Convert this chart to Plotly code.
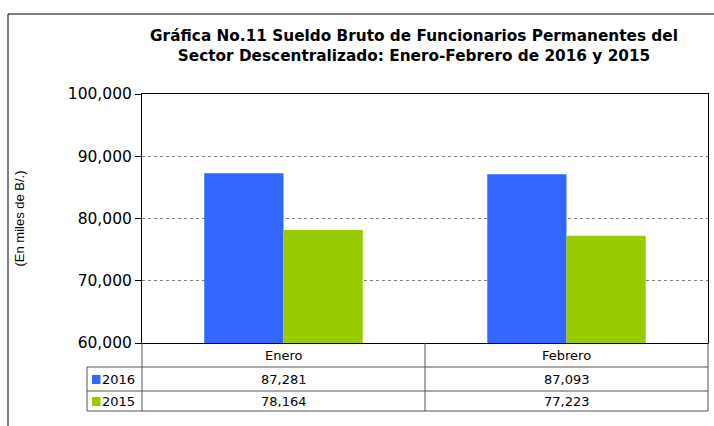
import plotly.graph_objects as go

# datos
meses = ["Enero", "Febrero"]
anios = ["2016", "2015"]
sueldo_2016 = [87281, 87093]
sueldo_2015 = [78164, 77223]
colores = ["#3366FF", "#99CC00"]
y_ticks = [60000, 70000, 80000, 90000, 100000]

titulo = ("Gráfica No.11 Sueldo Bruto de Funcionarios Permanentes del<br>"
          "Sector Descentralizado: Enero-Febrero de 2016 y 2015")

W, H = 714, 426
L, R, T, B = 142, 708, 94, 343   # plot area in pixels


def fx(p):
    return (p - L) / (R - L)


def fy(p):
    return (B - p) / (B - T)


FONT = "DejaVu Sans"

fig = go.Figure()
for nombre, vals, c in zip(anios, [sueldo_2016, sueldo_2015], colores):
    fig.add_trace(go.Bar(x=meses, y=vals, name=nombre, marker_color=c,
                         marker_line_width=0))

# tabla de datos debajo del grafico
line = dict(color="#555555", width=1)
shapes = [
    # marco exterior
    dict(type="rect", xref="paper", yref="paper", x0=fx(8), x1=fx(730),
         y0=fy(14), y1=fy(450), line=dict(color="black", width=1)),
]
for yy in [367, 391, 411]:
    shapes.append(dict(type="line", xref="paper", yref="paper",
                       x0=fx(87), x1=fx(R), y0=fy(yy), y1=fy(yy), line=line))
shapes.append(dict(type="line", xref="paper", yref="paper",
                   x0=fx(87), x1=fx(87), y0=fy(367), y1=fy(411), line=line))
for xx in [L, (L + R) / 2, R]:
    shapes.append(dict(type="line", xref="paper", yref="paper",
                       x0=fx(xx), x1=fx(xx), y0=fy(B), y1=fy(411), line=line))

annotations = []
for m in meses:
    annotations.append(dict(x=m, xref="x", y=fy(355), yref="paper", text=m,
                            showarrow=False, yanchor="middle",
                            font=dict(size=13, family=FONT)))

filas = [(379, anios[0], sueldo_2016, colores[0]),
         (401, anios[1], sueldo_2015, colores[1])]
for yy, nombre, vals, c in filas:
    shapes.append(dict(type="rect", xref="paper", yref="paper",
                       x0=fx(92), x1=fx(100.5), y0=fy(yy - 4), y1=fy(yy + 5),
                       fillcolor=c, line=dict(width=0)))
    annotations.append(dict(x=fx(100), xref="paper", y=fy(yy), yref="paper",
                            text=nombre, showarrow=False, xanchor="left",
                            yanchor="middle", font=dict(size=13, family=FONT)))
    for m, v in zip(meses, vals):
        annotations.append(dict(x=m, xref="x", y=fy(yy), yref="paper",
                                text=f"{v:,}", showarrow=False, yanchor="middle",
                                font=dict(size=13, family=FONT)))

fig.update_layout(
    width=W, height=H,
    margin=dict(l=L, r=W - R, t=T, b=H - B),
    paper_bgcolor="white", plot_bgcolor="white",
    showlegend=False,
    barmode="group", bargap=0.44, bargroupgap=0,
    font=dict(family=FONT, color="black"),
    title=dict(text=titulo, x=414 / W, xanchor="center", y=1 - 41 / H,
               yanchor="middle", font=dict(size=15.3, family=FONT, weight="bold")),
    shapes=shapes,
    annotations=annotations,
)
fig.update_xaxes(showticklabels=False, ticks="", showline=True, mirror=True,
                 linecolor="black", linewidth=1, showgrid=False)
fig.update_yaxes(range=[60000, 100000], tickvals=y_ticks, tickformat=",",
                 ticks="outside", ticklen=6, tickcolor="black",
                 showline=True, mirror=True, linecolor="black", linewidth=1,
                 showgrid=True, gridcolor="#808080", griddash="dot", gridwidth=1,
                 tickfont=dict(size=15.5, family=FONT),
                 title=dict(text="(En miles de B/.)", standoff=40,
                            font=dict(size=13, family="Liberation Sans")))

fig.write_html("out.html", config={"displayModeBar": False},
               post_script="document.body.style.margin='0';"
                           "document.body.style.overflow='hidden';")
